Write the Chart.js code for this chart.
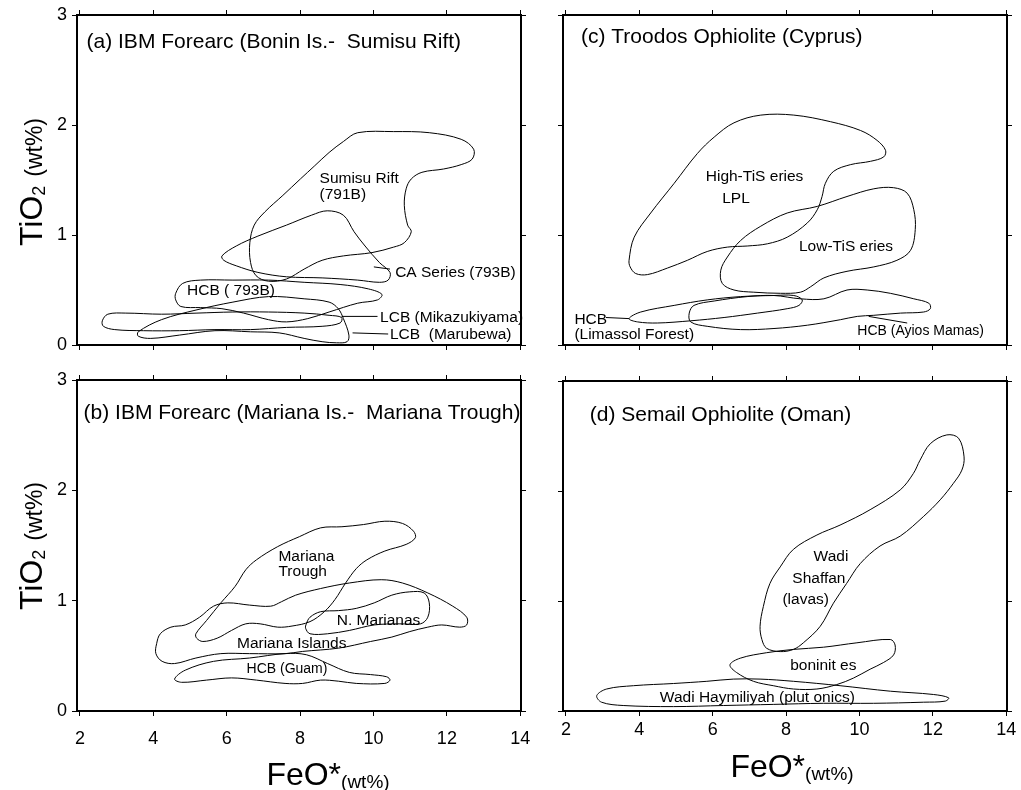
<!DOCTYPE html>
<html><head><meta charset="utf-8">
<script src="https://cdn.jsdelivr.net/npm/chart.js@4.4.1/dist/chart.umd.min.js"></script>
<style>
html,body{margin:0;padding:0;background:#fff;}
body{width:1021px;height:790px;position:relative;overflow:hidden;font-family:"Liberation Sans",Arial,sans-serif;color:#000;}
canvas{position:absolute;display:block;}
.ytitle{position:absolute;white-space:nowrap;transform:translate(-50%,-50%) rotate(-90deg);font-size:32px;line-height:1;}
.ytitle sub{font-size:18px;vertical-align:-3px;}
.ytitle small{font-size:23px;}
.xtitle{position:absolute;white-space:nowrap;transform:translate(-50%,-50%);font-size:32px;line-height:1;}
.xtitle small{font-size:19px;position:relative;top:3px;}
</style></head>
<body>
<canvas id="pa" width="542" height="365" style="left:0;top:0"></canvas>
<canvas id="pb" width="542" height="425" style="left:0;top:365px"></canvas>
<canvas id="pc" width="479" height="365" style="left:542px;top:0"></canvas>
<canvas id="pd" width="479" height="425" style="left:542px;top:365px"></canvas>
<div class="ytitle" style="left:31px;top:182px">TiO<sub>2</sub> <small>(wt%)</small></div>
<div class="ytitle" style="left:31px;top:546px">TiO<sub>2</sub> <small>(wt%)</small></div>
<div class="xtitle" style="left:328px;top:774px">FeO*<small>(wt%)</small></div>
<div class="xtitle" style="left:792px;top:766px">FeO*<small>(wt%)</small></div>
<script>
// ---------- axis ticks ----------
const xTicks = [2, 4, 6, 8, 10, 12, 14];
const yTicks = [0, 1, 2, 3];

// ---------- (a) IBM Forearc (Bonin Is. - Sumisu Rift) ----------
const sumisuRift = [[9.57,1.93],[10.55,1.94],[11.52,1.93],[12.39,1.87],[12.73,1.78],[12.69,1.69],[12.39,1.64],[11.91,1.60],[11.32,1.57],[11.03,1.51],[10.89,1.42],[10.84,1.27],[10.93,1.09],[11.03,1.03],[10.84,0.93],[10.55,0.89],[9.96,0.84],[9.18,0.81],[8.60,0.77],[8.11,0.69],[7.63,0.60],[7.14,0.58],[6.80,0.63],[6.65,0.75],[6.63,0.93],[6.75,1.09],[7.04,1.21],[7.53,1.36],[8.01,1.51],[8.40,1.63],[8.79,1.75],[9.18,1.85]];
const caSeries793B = [[5.87,0.81],[6.26,0.90],[6.85,0.99],[7.63,1.09],[8.31,1.18],[8.74,1.22],[9.18,1.18],[9.47,1.03],[9.77,0.90],[10.16,0.75],[10.45,0.66],[10.40,0.59],[10.16,0.57],[9.57,0.59],[8.60,0.61],[7.63,0.62],[6.85,0.66],[6.26,0.72],[5.92,0.77]];
const hcb793B = [[4.61,0.47],[4.80,0.56],[5.29,0.59],[6.17,0.59],[7.14,0.59],[8.11,0.57],[9.09,0.55],[9.86,0.51],[10.23,0.46],[10.11,0.41],[9.57,0.38],[8.79,0.30],[8.21,0.24],[7.63,0.21],[7.14,0.23],[6.46,0.29],[5.87,0.33],[5.29,0.34],[4.75,0.35],[4.61,0.41]];
const lcbMikazukiyama = [[2.61,0.22],[2.76,0.28],[3.25,0.29],[4.22,0.28],[5.19,0.29],[6.17,0.30],[7.14,0.30],[8.11,0.29],[8.79,0.27],[9.13,0.25],[9.09,0.20],[8.60,0.17],[7.63,0.16],[6.65,0.14],[5.68,0.14],[4.71,0.13],[3.73,0.13],[2.95,0.14],[2.64,0.17]];
const lcbMarubewa = [[3.59,0.12],[4.22,0.23],[5.19,0.32],[6.17,0.39],[7.14,0.44],[8.11,0.42],[8.79,0.39],[9.04,0.33],[9.18,0.24],[9.33,0.09],[9.28,0.03],[8.99,0.02],[8.60,0.03],[8.11,0.06],[7.43,0.11],[6.65,0.12],[5.68,0.13],[4.71,0.09],[3.93,0.06],[3.59,0.08]];
const leadersA = [[[10.01,0.71],[10.45,0.69]], [[9.13,0.26],[10.11,0.26]], [[9.43,0.11],[10.40,0.10]]];
const titleA = ["(a) IBM Forearc (Bonin Is.-  Sumisu Rift)", 2.18, 2.75];
const textsA = [["Sumisu Rift",8.53,1.51],["(791B)",8.53,1.37],["CA Series (793B)",10.59,0.66],["HCB ( 793B)",4.92,0.49],["LCB (Mikazukiyama)",10.18,0.25],["LCB  (Marubewa)",10.45,0.09]];

// ---------- (b) IBM Forearc (Mariana Is. - Mariana Trough) ----------
const marianaTrough = [[5.16,0.70],[5.45,0.82],[5.84,0.98],[6.23,1.13],[6.52,1.28],[6.81,1.37],[7.39,1.49],[7.98,1.58],[8.56,1.66],[9.14,1.67],[9.73,1.69],[10.31,1.72],[10.79,1.70],[11.09,1.63],[11.14,1.57],[10.89,1.51],[10.31,1.45],[9.82,1.37],[9.53,1.29],[9.24,1.16],[8.95,1.01],[8.66,0.90],[8.27,0.81],[7.78,0.77],[7.39,0.76],[6.91,0.79],[6.52,0.79],[6.13,0.73],[5.74,0.66],[5.35,0.63],[5.18,0.66]];
const marianaIslands = [[4.09,0.61],[4.19,0.70],[4.48,0.76],[4.87,0.78],[5.26,0.85],[5.64,0.95],[6.03,0.98],[6.62,0.96],[7.20,0.95],[7.49,0.99],[7.88,1.05],[8.56,1.11],[9.34,1.16],[10.21,1.19],[10.79,1.16],[11.48,1.07],[12.16,0.95],[12.54,0.85],[12.54,0.78],[12.35,0.76],[11.86,0.78],[11.48,0.76],[10.99,0.72],[10.50,0.67],[9.92,0.63],[9.05,0.57],[8.07,0.54],[7.59,0.52],[6.62,0.52],[5.84,0.52],[5.16,0.48],[4.58,0.43],[4.24,0.45],[4.07,0.52]];
const nMarianas = [[8.17,0.79],[8.27,0.85],[8.56,0.90],[9.05,0.91],[9.53,0.93],[10.02,0.98],[10.50,1.05],[10.99,1.08],[11.38,1.07],[11.52,0.98],[11.48,0.85],[11.28,0.79],[10.70,0.79],[10.02,0.78],[9.34,0.73],[8.75,0.70],[8.27,0.70],[8.15,0.75]];
const hcbGuam = [[4.58,0.29],[4.87,0.37],[5.64,0.45],[6.62,0.48],[7.59,0.52],[8.17,0.51],[8.75,0.43],[9.34,0.35],[9.92,0.33],[10.36,0.31],[10.45,0.28],[10.31,0.25],[9.53,0.25],[9.05,0.27],[8.56,0.28],[8.07,0.25],[7.59,0.25],[6.81,0.28],[6.13,0.30],[5.45,0.28],[4.77,0.26]];
const titleB = ["(b) IBM Forearc (Mariana Is.-  Mariana Trough)", 2.10, 2.70];
const textsB = [["Mariana",7.41,1.40],["Trough",7.41,1.26],["N. Marianas",9.0,0.82],["Mariana Islands",6.28,0.61],["HCB (Guam)",6.54,0.38]];

// ---------- (c) Troodos Ophiolite (Cyprus) ----------
const highTiSeries = [[3.72,0.77],[3.86,0.98],[4.31,1.20],[4.95,1.47],[5.58,1.74],[6.04,1.89],[6.58,2.02],[7.31,2.09],[8.21,2.09],[9.21,2.03],[10.03,1.95],[10.48,1.86],[10.71,1.77],[10.66,1.71],[10.30,1.67],[9.76,1.64],[9.30,1.58],[9.07,1.47],[8.98,1.35],[8.85,1.23],[8.58,1.11],[8.03,0.98],[7.49,0.92],[6.94,0.90],[6.40,0.89],[5.85,0.85],[5.31,0.77],[4.77,0.70],[4.22,0.64],[3.90,0.65],[3.75,0.71]];
const lowTiSeries = [[6.22,0.68],[6.40,0.80],[6.76,0.95],[7.31,1.08],[8.03,1.20],[8.85,1.26],[9.66,1.35],[10.39,1.42],[10.93,1.43],[11.30,1.38],[11.48,1.23],[11.52,1.05],[11.39,0.86],[11.02,0.77],[10.39,0.71],[9.66,0.67],[9.03,0.61],[8.67,0.53],[8.39,0.48],[7.85,0.47],[7.12,0.48],[6.58,0.50],[6.26,0.56]];
const hcbLimassol = [[3.72,0.24],[4.04,0.30],[4.95,0.36],[5.85,0.41],[6.76,0.44],[7.67,0.45],[8.21,0.45],[8.44,0.41],[8.35,0.36],[8.03,0.33],[7.22,0.29],[6.31,0.25],[5.40,0.22],[4.49,0.20],[3.95,0.21]];
const hcbAyiosMamas = [[5.36,0.29],[5.49,0.36],[6.04,0.40],[6.94,0.44],[7.67,0.45],[8.39,0.42],[9.03,0.42],[9.66,0.50],[10.21,0.50],[10.84,0.47],[11.48,0.42],[11.89,0.38],[11.93,0.33],[11.75,0.30],[11.12,0.29],[10.39,0.27],[9.94,0.26],[9.48,0.23],[8.58,0.18],[7.67,0.15],[6.76,0.14],[5.85,0.17],[5.40,0.21]];
const leadersC = [[[3.09,0.25],[3.72,0.24]], [[10.25,0.26],[11.30,0.20]]];
const titleC = ["(c) Troodos Ophiolite (Cyprus)", 2.41, 2.80];
const textsC = [["High-TiS eries",5.81,1.53],["LPL",6.26,1.33],["Low-TiS eries",8.35,0.89],["HCB",2.23,0.23],["(Limassol Forest)",2.23,0.09],["HCB (Ayios Mamas)",9.94,0.13]];

// ---------- (d) Semail Ophiolite (Oman) ----------
const wadiShaffan = [[7.29,0.77],[7.38,0.95],[7.56,1.16],[7.84,1.31],[8.20,1.47],[8.84,1.60],[9.47,1.69],[10.29,1.83],[11.11,2.01],[11.47,2.16],[11.65,2.28],[11.93,2.43],[12.38,2.51],[12.70,2.48],[12.85,2.31],[12.79,2.19],[12.56,2.07],[12.20,1.92],[11.75,1.77],[11.11,1.59],[10.56,1.50],[10.02,1.34],[9.65,1.16],[9.29,0.98],[8.93,0.77],[8.47,0.62],[8.20,0.56],[7.84,0.54],[7.47,0.57],[7.34,0.65]];
const boninites = [[6.47,0.42],[6.75,0.48],[7.47,0.53],[8.20,0.56],[9.02,0.58],[9.93,0.62],[10.84,0.65],[10.97,0.60],[10.93,0.51],[10.65,0.44],[10.29,0.38],[9.84,0.30],[9.38,0.24],[8.84,0.20],[8.20,0.20],[7.65,0.23],[7.11,0.27],[6.65,0.35]];
const wadiHaymiliyah = [[2.84,0.14],[3.11,0.20],[3.84,0.23],[4.93,0.25],[5.84,0.27],[6.56,0.29],[7.29,0.29],[8.20,0.27],[9.47,0.23],[10.84,0.18],[12.02,0.15],[12.43,0.12],[12.34,0.09],[11.75,0.08],[10.38,0.07],[9.02,0.07],[7.65,0.06],[6.29,0.05],[4.93,0.04],[3.56,0.05],[2.97,0.08]];
const titleD = ["(d) Semail Ophiolite (Oman)", 2.65, 2.69];
const textsD = [["Wadi",8.75,1.40],["Shaffan",8.17,1.20],["(lavas)",7.90,1.01],["boninit es",8.11,0.41],["Wadi Haymiliyah (plut onics)",4.56,0.12]];

// ---------- rendering ----------
const FONT = '"Liberation Sans", Arial, Helvetica, sans-serif';
const X_MIN = 1.92, X_MAX = 14.02, Y_MIN = 0, Y_MAX = 3;
const smallLabels = new Set(["HCB (Guam)", "HCB (Ayios Mamas)"]);

function loopData(pts) {
  const n = pts.length;
  const seq = [pts[n - 1], ...pts, pts[0], pts[1]];
  return seq.map(p => ({ x: p[0], y: p[1] }));
}

function axis(isY, pos, showLabels, size, pad) {
  return {
    type: 'linear', position: pos,
    min: isY ? Y_MIN : X_MIN, max: isY ? Y_MAX : X_MAX,
    afterBuildTicks: s => { s.ticks = (isY ? yTicks : xTicks).map(v => ({ value: v })); },
    afterFit: s => {
      if (isY) s.width = size; else s.height = size;
      s.paddingLeft = s.paddingRight = s.paddingTop = s.paddingBottom = 0;
    },
    grid: { display: true, drawOnChartArea: false, drawTicks: true, tickLength: 5, color: '#000', lineWidth: 1 },
    border: { display: true, color: '#000', width: 2 },
    ticks: { display: showLabels, color: '#000', font: { family: FONT, size: 18 }, padding: pad, autoSkip: false, maxRotation: 0 }
  };
}

const textPlugin = {
  id: 'panelTexts',
  afterDatasetsDraw(chart, args, opts) {
    const { ctx } = chart;
    const xs = chart.scales.x, ys = chart.scales.y;
    ctx.save();
    ctx.fillStyle = '#000';
    ctx.textBaseline = 'middle';
    ctx.textAlign = 'left';
    const t = opts.title;
    ctx.font = '21px ' + FONT;
    ctx.fillText(t[0], xs.getPixelForValue(t[1]), ys.getPixelForValue(t[2]));
    for (const it of opts.items) {
      ctx.font = (smallLabels.has(it[0]) ? '14px ' : '15.5px ') + FONT;
      ctx.fillText(it[0], xs.getPixelForValue(it[1]), ys.getPixelForValue(it[2]));
    }
    ctx.restore();
  }
};

function makePanel(id, m, showX, showY, xPad, shapes, leaders, title, texts) {
  const datasets = [];
  shapes.forEach(s => datasets.push({
    data: loopData(s), showLine: true, pointRadius: 0, borderColor: '#000', borderWidth: 1,
    tension: 0.35, fill: false,
    segment: {
      borderColor: c => {
        const len = c.chart.data.datasets[c.datasetIndex].data.length;
        return (c.p0DataIndex === 0 || c.p1DataIndex === len - 1) ? 'rgba(0,0,0,0)' : undefined;
      }
    }
  }));
  leaders.forEach(l => datasets.push({
    data: l.map(p => ({ x: p[0], y: p[1] })), showLine: true, pointRadius: 0,
    borderColor: '#000', borderWidth: 1, tension: 0, fill: false
  }));
  new Chart(document.getElementById(id), {
    type: 'scatter',
    data: { datasets },
    options: {
      responsive: false, animation: false, events: [],
      layout: { padding: 0 },
      plugins: { legend: { display: false }, tooltip: { enabled: false }, panelTexts: { title, items: texts } },
      scales: {
        x: axis(false, 'bottom', showX, m[3], xPad),
        x2: axis(false, 'top', false, m[2], 0),
        y: axis(true, 'left', showY, m[0], 5),
        y2: axis(true, 'right', false, m[1], 0)
      }
    },
    plugins: [textPlugin]
  });
}

// margins: [left, right, top, bottom]
makePanel('pa', [77, 21, 15, 20], false, true, 0,
  [sumisuRift, caSeries793B, hcb793B, lcbMikazukiyama, lcbMarubewa], leadersA, titleA, textsA);
makePanel('pb', [77, 21, 15, 79], true, true, 12,
  [marianaTrough, marianaIslands, nMarianas, hcbGuam], [], titleB, textsB);
makePanel('pc', [21, 14, 15, 20], false, false, 0,
  [highTiSeries, lowTiSeries, hcbLimassol, hcbAyiosMamas], leadersC, titleC, textsC);
makePanel('pd', [21, 14, 16, 79], true, false, 3,
  [wadiShaffan, boninites, wadiHaymiliyah], [], titleD, textsD);
</script>
</body></html>
